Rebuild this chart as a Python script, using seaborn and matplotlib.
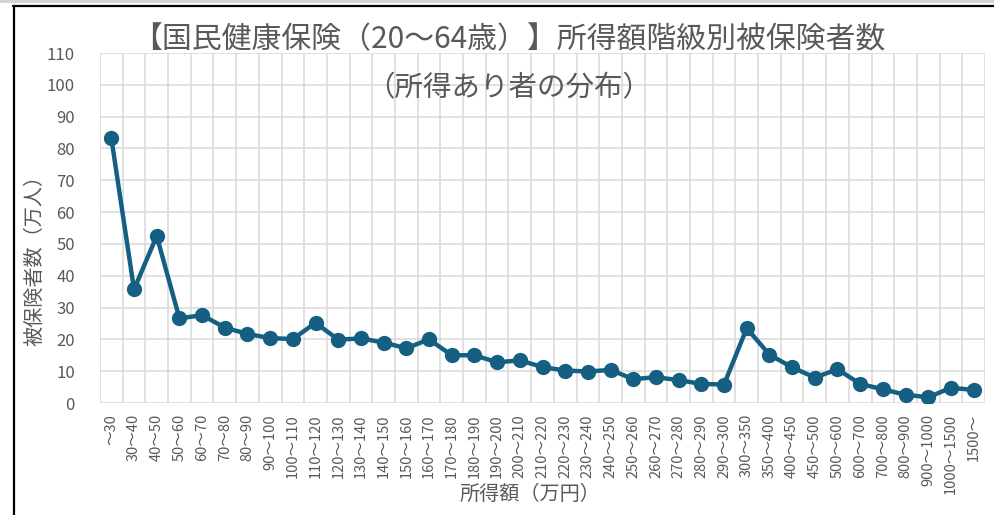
import matplotlib
matplotlib.use("Agg")
import matplotlib.pyplot as plt
import matplotlib.ticker as mticker
from matplotlib.lines import Line2D
from matplotlib.patches import Rectangle
import seaborn as sns
import pandas as pd

categories = ["～30", "30～40", "40～50", "50～60", "60～70", "70～80", "80～90",
              "90～100", "100～110", "110～120", "120～130", "130～140", "140～150",
              "150～160", "160～170", "170～180", "180～190", "190～200", "200～210",
              "210～220", "220～230", "230～240", "240～250", "250～260", "260～270",
              "270～280", "280～290", "290～300", "300～350", "350～400", "400～450",
              "450～500", "500～600", "600～700", "700～800", "800～900", "900～1000",
              "1000～1500", "1500～"]
values = [83.2, 35.7, 52.5, 26.6, 27.6, 23.7, 21.7, 20.4, 20.1, 25.2, 19.9, 20.3,
          19.0, 17.2, 20.0, 15.0, 15.0, 12.8, 13.4, 11.3, 10.2, 9.9, 10.4, 7.5,
          8.1, 7.2, 6.0, 5.8, 23.5, 15.2, 11.2, 8.0, 10.6, 6.0, 4.3, 2.6, 1.8,
          4.8, 4.1]
yticks = list(range(0, 111, 10))

title = "【国民健康保険（20～64歳）】所得額階級別被保険者数"
subtitle = "（所得あり者の分布）"
xlabel = "所得額（万円）"
ylabel = "被保険者数（万人）"

sns.set_theme(style="white")
plt.rcParams['font.family'] = ['Noto Sans CJK JP', 'DejaVu Sans']

W, H = 995, 515
fig = plt.figure(figsize=(W / 100, H / 100), dpi=100)
ax = fig.add_axes([100 / W, (H - 403) / H, 885 / W, 350 / H])

df = pd.DataFrame({"cat": categories, "val": values})
line_color = "#156082"
sns.lineplot(data=df, x="cat", y="val", ax=ax, sort=False, color=line_color,
             linewidth=3.2, marker="o", markersize=11, markeredgewidth=0,
             markeredgecolor=line_color)

grid_c = "#d9d9d9"
txt_c = "#595959"
ax.set_xlim(-0.5, len(categories) - 0.5)
ax.set_ylim(0, 110)
ax.set_yticks(yticks)
ax.xaxis.set_minor_locator(mticker.FixedLocator([i - 0.5 for i in range(len(categories) + 1)]))
ax.grid(False)
ax.grid(True, which="minor", axis="x", color=grid_c, linewidth=1.1)
ax.grid(True, which="major", axis="y", color=grid_c, linewidth=1.1)
ax.set_axisbelow(True)
for s in ax.spines.values():
    s.set_visible(False)
ax.tick_params(axis="both", which="both", length=0)
ax.tick_params(axis="y", labelsize=12, labelcolor=txt_c, pad=18)
ax.tick_params(axis="x", labelsize=10.5, labelcolor=txt_c, pad=8)
ax.set_xticks(range(len(categories)))
ax.set_xticklabels(categories, rotation=90, ha="center", va="top")
ax.set_xlabel("")
ax.set_ylabel("")

fig.text(509 / W, 1 - 40 / H, title, ha="center", va="center", fontsize=21.5, color=txt_c)
fig.text(509 / W, 1 - 88 / H, subtitle, ha="center", va="center", fontsize=20.5, color=txt_c)
fig.text(530 / W, 1 - 494 / H, xlabel, ha="center", va="center", fontsize=14.5, color=txt_c)
fig.text(35 / W, 1 - 255 / H, ylabel, ha="center", va="center", fontsize=14.5,
         color=txt_c, rotation=90)

# screenshot frame
fig.patches.append(Rectangle((0, 1 - 3 / H), 1, 3 / H, transform=fig.transFigure,
                             facecolor="#d4d4d4", edgecolor="none"))
fig.lines.append(Line2D([13.5 / W, 1], [1 - 6 / H, 1 - 6 / H], transform=fig.transFigure,
                        color="black", linewidth=1.6))
fig.lines.append(Line2D([14 / W, 14 / W], [0, 1 - 6 / H], transform=fig.transFigure,
                        color="black", linewidth=1.6))

fig.savefig("out.png", dpi=100, facecolor="white")
